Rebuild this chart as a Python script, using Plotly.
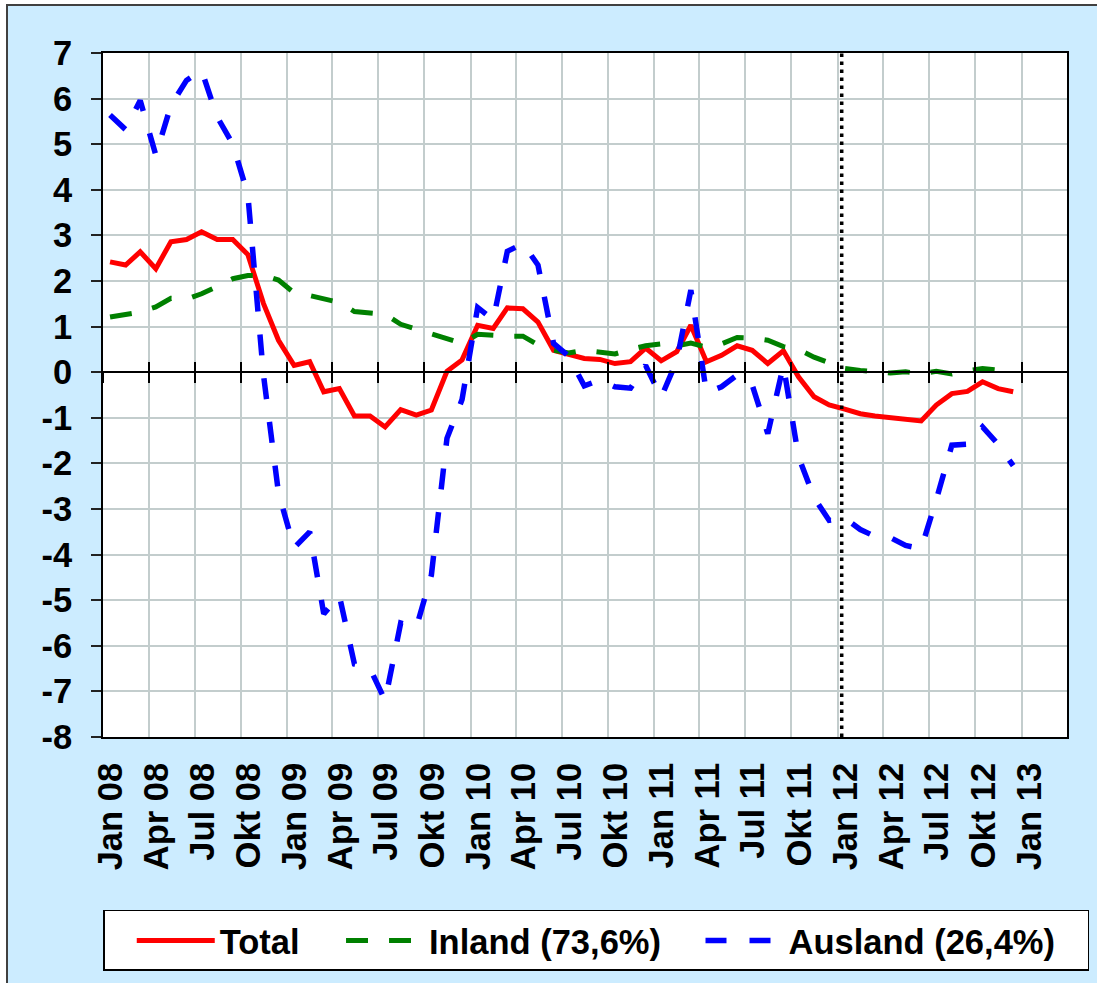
import plotly.graph_objects as go
import pandas as pd

# ---------------- data ----------------
months = [f"{y}-{m:02d}-15" for y in range(2008, 2013) for m in range(1, 13)]

total = [2.42, 2.35, 2.64, 2.27, 2.86, 2.91, 3.08, 2.91, 2.91, 2.58, 1.51, 0.70,
         0.15, 0.23, -0.43, -0.36, -0.96, -0.96, -1.20, -0.82, -0.94, -0.83, 0.02, 0.27,
         1.03, 0.96, 1.41, 1.39, 1.10, 0.48, 0.39, 0.30, 0.28, 0.19, 0.23, 0.53,
         0.25, 0.45, 1.03, 0.23, 0.37, 0.58, 0.48, 0.19, 0.47, -0.10, -0.54, -0.72,
         -0.81, -0.91, -0.96, -0.99, -1.02, -1.07, -0.72, -0.47, -0.42, -0.21, -0.36, -0.43]

inland = [1.21, 1.26, 1.32, 1.43, 1.62, 1.60, 1.72, 1.88, 2.05, 2.12, 2.13, 2.02,
          1.74, 1.68, 1.61, 1.53, 1.33, 1.30, 1.27, 1.05, 0.94, 0.82, 0.73, 0.63,
          0.83, 0.80, 0.79, 0.79, 0.60, 0.48, 0.42, 0.48, 0.43, 0.40, 0.50, 0.58,
          0.62, 0.58, 0.64, 0.55, 0.62, 0.76, 0.75, 0.70, 0.56, 0.50, 0.33, 0.20,
          0.08, 0.04, 0.00, -0.02, 0.01, -0.04, 0.02, -0.04, 0.03, 0.08, 0.05, 0.15]

ausland = [5.64, 5.32, 5.96, 4.76, 5.85, 6.40, 6.62, 5.60, 5.00, 3.90, -0.05, -2.65,
           -3.85, -3.50, -5.30, -4.90, -6.40, -6.50, -7.20, -5.50, -5.60, -4.45, -1.45, -0.60,
           1.42, 1.15, 2.65, 2.82, 2.35, 0.63, 0.35, -0.30, -0.17, -0.32, -0.35, 0.15,
           -0.55, 0.25, 1.80, -0.45, -0.32, -0.06, -0.28, -1.35, 0.15, -1.85, -2.75, -3.25,
           -3.20, -3.45, -3.60, -3.63, -3.80, -3.87, -2.80, -1.60, -1.58, -1.20, -1.58, -2.05]

series_names = ["Total", "Inland (73,6%)", "Ausland (26,4%)"]

tick_dates = [f"{y}-{m:02d}-01" for y in range(2008, 2013) for m in (1, 4, 7, 10)] + ["2013-01-01"]
tick_labels = [f"{mn} {y:02d}" for y in range(8, 13) for mn in ("Jan", "Apr", "Jul", "Okt")] + ["Jan 13"]
label_offset_days = 16
label_dates = [(pd.Timestamp(d) + pd.Timedelta(days=label_offset_days)).strftime("%Y-%m-%d") for d in tick_dates]

y_ticks = list(range(-8, 8))
y_labels = [str(v) for v in y_ticks]

x_range = ["2008-01-01", "2013-04-01"]
y_range = [-8, 7]
marker_date = "2012-01-09"

# ---------------- figure ----------------
FONT = "Liberation Sans, Arial, sans-serif"
FS = 34.5
GRID = "#C3CDCD"
W, H = 1097, 983
ML, MT, MR, MB = 103, 53, 30, 246
PW, PH = W - ML - MR, H - MT - MB

pad_first = "\u2002\u00a0\u00a0"
pad_mid = "\u2002\u2002"
pad_end = "\u2002\u00a0"
legend_names = [series_names[0] + pad_first, series_names[1] + pad_mid, series_names[2] + pad_end]

fig = go.Figure()
fig.add_trace(go.Scatter(x=months, y=total, mode="lines", name=legend_names[0],
                         line=dict(color="#FF0000", width=5)))
fig.add_trace(go.Scatter(x=months, y=inland, mode="lines", name=legend_names[1],
                         line=dict(color="#008000", width=5, dash="22px,21px")))
fig.add_trace(go.Scatter(x=months, y=ausland, mode="lines", name=legend_names[2],
                         line=dict(color="#0000FF", width=5.5, dash="21px,23px")))
# empty helper traces so that the auxiliary x-axes are rendered
for ax in ("x2", "x3", "x4"):
    fig.add_trace(go.Scatter(x=[x_range[0]], y=[None], xaxis=ax, yaxis="y", mode="lines",
                             showlegend=False, hoverinfo="skip"))

zero_pos = (0 - y_range[0]) / (y_range[1] - y_range[0])

fig.update_layout(
    width=W, height=H,
    margin=dict(l=ML, r=MR, t=MT, b=MB, autoexpand=False),
    paper_bgcolor="white", plot_bgcolor="white",
    font=dict(family=FONT, size=FS, color="black", weight="bold"),
    showlegend=True,
    legend=dict(orientation="h", x=0, xanchor="left", y=-0.2529, yanchor="top",
                bgcolor="white", bordercolor="black", borderwidth=1.5,
                font=dict(family=FONT, size=FS, color="black", weight="bold"),
                itemwidth=78,
                title=dict(text="\u2002", side="left",
                           font=dict(family=FONT, size=FS, color="black"))),
    xaxis=dict(type="date", range=x_range, tickvals=tick_dates, showticklabels=False,
               showgrid=True, gridcolor=GRID, gridwidth=1.5, ticks="",
               showline=True, linecolor="black", linewidth=2, mirror=True, zeroline=False),
    xaxis2=dict(type="date", range=x_range, overlaying="x", anchor="y", side="bottom",
                tickvals=label_dates, ticktext=tick_labels, tickangle=-90,
                showgrid=False, showline=False, ticks="", zeroline=False,
                ticklabelstandoff=18,
                tickfont=dict(family=FONT, size=FS, color="black", weight="bold")),
    xaxis3=dict(type="date", range=x_range, overlaying="x", anchor="free", position=zero_pos,
                tickvals=tick_dates, showticklabels=False, showgrid=False,
                ticks="outside", ticklen=10, tickwidth=1.5, tickcolor="black",
                showline=True, linecolor="black", linewidth=1.5, zeroline=False),
    xaxis4=dict(type="date", range=x_range, overlaying="x", anchor="free", position=zero_pos,
                tickvals=tick_dates, showticklabels=False, showgrid=False,
                ticks="inside", ticklen=10, tickwidth=1.5, tickcolor="black",
                showline=False, zeroline=False),
    yaxis=dict(range=y_range, tickvals=y_ticks, ticktext=y_labels,
               showgrid=True, gridcolor=GRID, gridwidth=1.5,
               ticks="outside", ticklen=10, tickwidth=1.5, tickcolor="#222222",
               showline=True, linecolor="black", linewidth=2, mirror=True, zeroline=False,
               ticklabelstandoff=12,
               tickfont=dict(family=FONT, size=FS, color="black", weight="bold")),
)

# chart-area background with border, then white plot area on top of it
fig.add_shape(type="rect", xref="paper", yref="paper",
              x0=(7 - ML) / PW, x1=1.1, y0=-0.45, y1=1 + (MT - 5) / PH,
              fillcolor="#CCECFF", line=dict(color="#404040", width=2), layer="below")
fig.add_shape(type="rect", xref="paper", yref="paper", x0=0, x1=1, y0=0, y1=1,
              fillcolor="white", line=dict(width=0), layer="below")

# vertical dotted marker line
fig.add_shape(type="line", xref="x", yref="paper", x0=marker_date, x1=marker_date, y0=0, y1=1,
              line=dict(color="black", width=3.5, dash="3.5px,4.5px"), layer="above")

fig.write_html(
    "out.html",
    config={"displayModeBar": False},
    post_script="document.body.style.margin='0';document.body.style.padding='0';"
                "document.documentElement.style.overflow='hidden';",
)
